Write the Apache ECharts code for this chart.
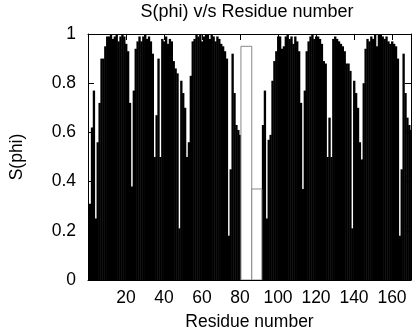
<!DOCTYPE html>
<html>
<head>
<meta charset="utf-8">
<script src="https://cdn.jsdelivr.net/npm/echarts@6/dist/echarts.min.js"></script>
<style>html,body{margin:0;padding:0;background:#fff}#c{width:416px;height:336px}</style>
</head>
<body>
<div id="c"></div>
<script>
// Chain A: residues 1..80
const chainAStart = 1;
const chainA = [
  0.31, 0.62, 0.77, 0.25, 0.56, 0.72, 0.90, 0.90, 0.95, 0.99,
  0.99, 1.00, 0.98, 0.99, 1.00, 0.97, 0.99, 1.00, 0.99, 0.96,
  0.93, 0.72, 0.38, 0.77, 0.94, 0.97, 0.99, 0.97, 0.99, 1.00,
  0.98, 0.99, 0.97, 0.92, 0.50, 0.67, 0.90, 0.50, 0.98, 0.97,
  0.99, 0.96, 0.98, 0.97, 0.89, 0.86, 0.84, 0.21, 0.81, 0.76,
  0.70, 0.50, 0.56, 0.83, 0.97, 0.98, 1.00, 0.99, 1.00, 0.97,
  0.99, 1.00, 1.00, 0.98, 1.00, 0.99, 0.97, 0.99, 0.98, 0.96,
  0.95, 0.93, 0.90, 0.18, 0.45, 0.92, 0.76, 0.63, 0.61, 0.59
];
// Chain B: residues 92..170
const chainBStart = 92;
const chainB = [
  0.63, 0.77, 0.25, 0.57, 0.59, 0.81, 0.89, 0.93,
  0.99, 0.99, 0.94, 0.95, 0.99, 1.00, 0.98, 0.99, 0.96, 0.99,
  0.97, 0.93, 0.72, 0.37, 0.77, 0.93, 0.97, 0.99, 1.00, 0.98,
  0.99, 0.99, 0.98, 0.96, 0.89, 0.88, 0.50, 0.66, 0.50, 0.98,
  0.99, 0.98, 0.97, 0.96, 0.95, 0.93, 0.88, 0.88, 0.85, 0.21,
  0.81, 0.76, 0.70, 0.56, 0.49, 0.80, 0.94, 0.98, 0.97, 0.99,
  0.98, 1.00, 0.95, 1.00, 1.00, 0.99, 0.98, 0.99, 0.97, 0.96,
  0.97, 0.96, 0.95, 0.90, 0.18, 0.45, 0.92, 0.76, 0.66, 0.63,
  0.61
];
// Open (unfilled) boxes in the gap: [from residue, to residue, value]
const openBoxes = [
  [80.5, 86.2, 0.95],
  [86.2, 91.5, 0.37]
];
const xTicks = [20, 40, 60, 80, 100, 120, 140, 160];
const yTicks = [0, 0.2, 0.4, 0.6, 0.8, 1];

const barData = [];
chainA.forEach((v, i) => { const r = chainAStart + i; barData.push([r - 0.5, r + 0.5, v]); });
chainB.forEach((v, i) => { const r = chainBStart + i; barData.push([r - 0.5, r + 0.5, v]); });

function makeRender(fill, stroke, overlap) {
  return function (params, api) {
    const p0 = api.coord([api.value(0), api.value(2)]);
    const p1 = api.coord([api.value(1), 0]);
    const style = { fill: fill };
    if (stroke) { style.stroke = stroke; style.lineWidth = 1; }
    return {
      type: 'rect',
      shape: { x: p0[0], y: p0[1], width: p1[0] - p0[0] + overlap, height: p1[1] - p0[1] },
      style: style
    };
  };
}

const FONT = 'Liberation Sans, Arial, Helvetica, sans-serif';
const chart = echarts.init(document.getElementById('c'), null, { renderer: 'canvas' });
const axisCommon = {
  axisLine: { show: true, onZero: false, lineStyle: { color: '#000', width: 1 } },
  axisTick: { show: true, inside: true, length: 6, lineStyle: { color: '#000' } },
  splitLine: { show: false }
};
chart.setOption({
  animation: false,
  backgroundColor: '#fff',
  title: {
    text: 'S(phi) v/s Residue number',
    left: 247, top: 3, textAlign: 'center', padding: 0,
    textStyle: { fontFamily: FONT, fontSize: 18, fontWeight: 'normal', color: '#000' }
  },
  grid: { left: 83, right: 5, top: 34, bottom: 54, containLabel: false },
  xAxis: [
    Object.assign({
      type: 'value', min: 0, max: 170, interval: 20, position: 'bottom',
      name: 'Residue number', nameLocation: 'middle', nameGap: 33,
      nameTextStyle: { fontFamily: FONT, fontSize: 17.5, color: '#000' },
      axisLabel: {
        fontFamily: FONT, fontSize: 17.5, color: '#000', margin: 9,
        formatter: v => (xTicks.indexOf(v) >= 0 ? String(v) : '')
      }
    }, axisCommon),
    Object.assign({
      type: 'value', min: 0, max: 170, interval: 20, position: 'top',
      axisLabel: { show: false }
    }, axisCommon)
  ],
  yAxis: [
    Object.assign({
      type: 'value', min: 0, max: 1, interval: 0.2, position: 'left',
      name: 'S(phi)', nameLocation: 'middle', nameGap: 62,
      nameTextStyle: { fontFamily: FONT, fontSize: 17.5, color: '#000' },
      axisLabel: {
        fontFamily: FONT, fontSize: 17.5, color: '#000', margin: 12,
        formatter: v => {
          const t = yTicks.find(t => Math.abs(t - v) < 1e-6);
          if (t === undefined) return '';
          return (t === 0 || t === 1) ? String(t) : t.toFixed(1);
        }
      }
    }, axisCommon),
    Object.assign({
      type: 'value', min: 0, max: 1, interval: 0.2, position: 'right',
      axisLabel: { show: false }
    }, axisCommon)
  ],
  series: [
    {
      type: 'custom', name: 'S(phi)', xAxisIndex: 0, yAxisIndex: 0,
      renderItem: makeRender('#000', null, 0.45), data: barData, clip: true, z: 1
    },
    {
      type: 'custom', name: 'gap', xAxisIndex: 0, yAxisIndex: 0,
      renderItem: makeRender('#fff', '#888', 0), data: openBoxes, clip: true, z: 2
    }
  ]
});
</script>
</body>
</html>
